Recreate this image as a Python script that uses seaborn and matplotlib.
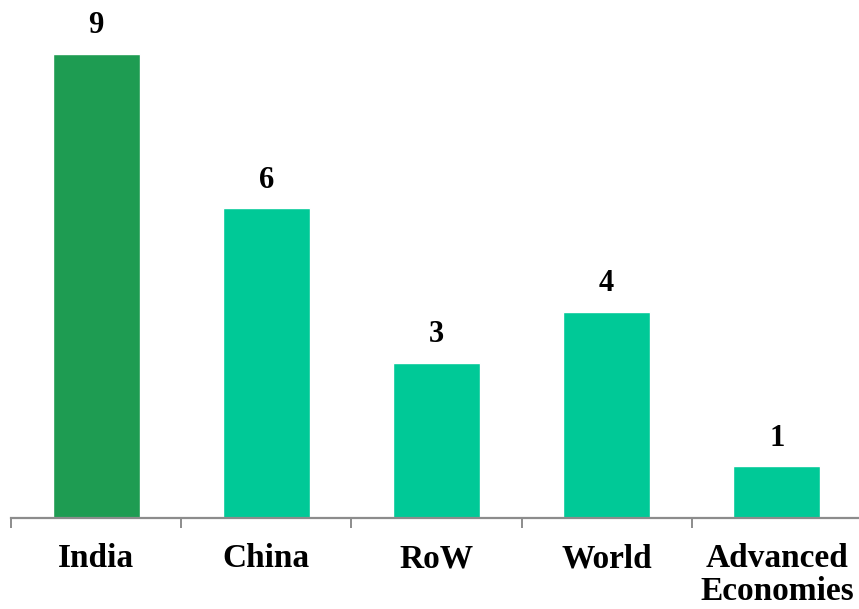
import matplotlib
matplotlib.use("Agg")
import matplotlib.pyplot as plt
import seaborn as sns
import pandas as pd
from matplotlib.ticker import FixedLocator

categories = ["India", "China", "RoW", "World", "Advanced\nEconomies"]
values = [9, 6, 3, 4, 1]
colors = ["#1E9C52", "#00C997", "#00C997", "#00C997", "#00C997"]

sns.set_theme(style="white")
plt.rcParams['font.family'] = ['Liberation Serif', 'DejaVu Serif']

df = pd.DataFrame({"cat": categories, "val": values})

fig = plt.figure(figsize=(8.59, 6.09), dpi=100)
ax = fig.add_axes([11/859, 91/609, 851/859, 518/609])
sns.barplot(data=df, x="cat", y="val", hue="cat", palette=colors, width=0.51,
            legend=False, ax=ax, saturation=1)
ax.set_xlim(-0.5, 4.5)
ax.set_ylim(0, 518/51.6)
for c in ax.containers:
    ax.bar_label(c, fmt="%d", padding=10, fontsize=22, fontweight="bold", color="black")

for s in ["top", "right", "left"]:
    ax.spines[s].set_visible(False)
ax.spines["bottom"].set_color("#8C8C8C")
ax.spines["bottom"].set_linewidth(1.6)
ax.set_yticks([])
ax.set_xlabel("")
ax.set_ylabel("")
ax.xaxis.set_minor_locator(FixedLocator([-0.5, 0.5, 1.5, 2.5, 3.5, 4.5]))
ax.tick_params(axis="x", which="minor", bottom=True, length=7.5, width=1.4, color="#8C8C8C")
ax.tick_params(axis="x", which="major", bottom=True, length=0, pad=18)
for lbl in ax.get_xticklabels():
    lbl.set_fontsize(24)
    lbl.set_fontweight("bold")
    lbl.set_color("black")
    lbl.set_linespacing(1.1)

fig.savefig("out.png", dpi=100)
